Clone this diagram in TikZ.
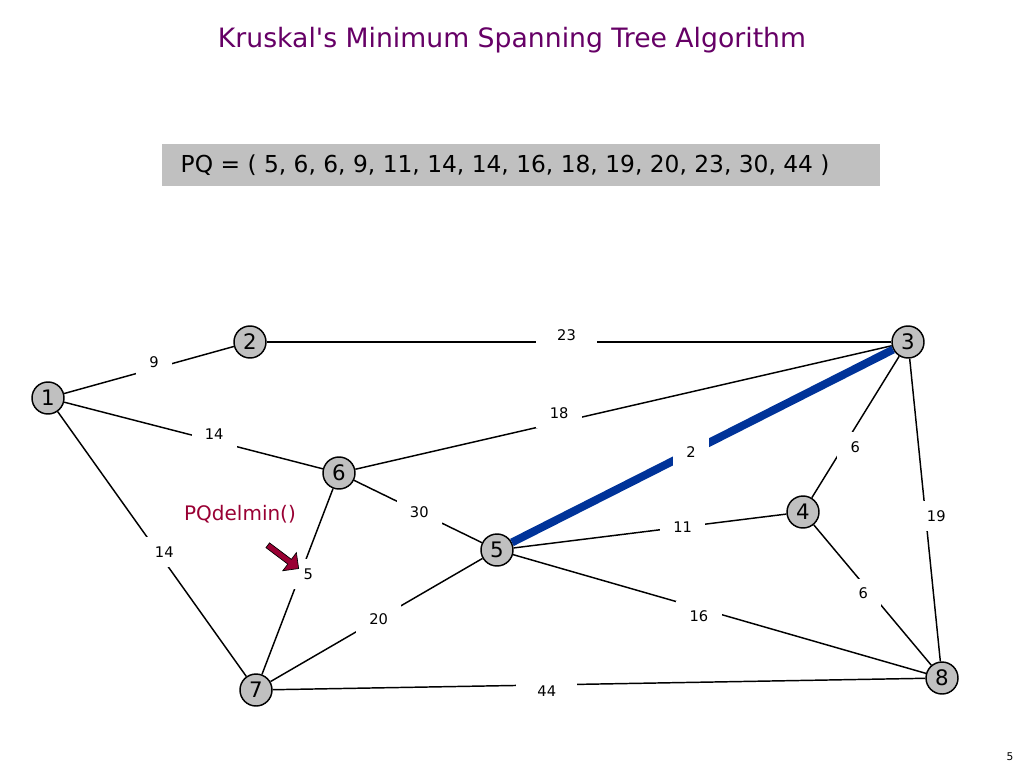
\documentclass[tikz,border=0pt]{standalone}
\usepackage{fontspec}
\setmainfont{DejaVu Sans}
\usepackage{tikz}
\usetikzlibrary{shapes.arrows}
\usetikzlibrary{calc}

\definecolor{titlepurple}{HTML}{660066}
\definecolor{pqgray}{HTML}{C0C0C0}
\definecolor{mstblue}{HTML}{003399}
\definecolor{delred}{HTML}{990033}

\begin{document}
\begin{tikzpicture}[
  x=0.75pt, y=-0.75pt,
  vtx/.style={circle, draw, line width=1.1pt, fill=pqgray, minimum size=24pt, inner sep=0pt, font=\fontsize{16}{16}\selectfont},
  edge/.style={line width=1.1pt},
  tree/.style={line width=6pt, mstblue},
  wt/.style={fill=white, inner xsep=10pt, inner ysep=7pt, font=\fontsize{11}{11}\selectfont, text=black}
]
\useasboundingbox (0,0) rectangle (1024,768);

% ---------- Title and queue ----------
\node[text=titlepurple, font=\fontsize{20}{20}\selectfont] (title) at (512,40) {Kruskal\textquotesingle s Minimum Spanning Tree Algorithm};
\node[fill=pqgray, minimum width=538pt, minimum height=31pt, anchor=west] (pqbox) at (162,165) {};
\node[anchor=west, font=\fontsize{17.5}{17.5}\selectfont] (pq) at (176,165) {PQ = ( 5, 6, 6, 9, 11, 14, 14, 16, 18, 19, 20, 23, 30, 44 )};

% ---------- Graph nodes ----------
\node[vtx] (n1) at (48,398) {1};
\node[vtx] (n2) at (250,342) {2};
\node[vtx] (n3) at (908,342) {3};
\node[vtx] (n4) at (803,512) {4};
\node[vtx] (n5) at (497,550) {5};
\node[vtx] (n6) at (339,473) {6};
\node[vtx] (n7) at (256,690) {7};
\node[vtx] (n8) at (942,678) {8};

% ---------- Edges with weights ----------
\draw[edge] (n1) -- node[wt, pos=0.53, yshift=5pt] {9} (n2);
\draw[edge] (n2) -- node[wt, pos=0.48, yshift=5pt, inner xsep=16pt] {23} (n3);
\draw[edge] (n1) -- node[wt, pos=0.58, yshift=5pt] {14} (n6);
\draw[edge] (n6) -- node[wt, pos=0.38, yshift=7pt] {18} (n3);
\draw[edge] (n3) -- node[wt, pos=0.64, xshift=9pt] {6} (n4);
\draw[edge] (n3) -- node[wt, pos=0.52, xshift=8pt] {19} (n8);
\draw[edge] (n5) -- node[wt, pos=0.62] {11} (n4);
\draw[edge] (n4) -- node[wt, pos=0.49, xshift=-6pt] {6} (n8);
\draw[edge] (n6) -- node[wt, pos=0.51] {30} (n5);
\draw[edge] (n6) -- node[wt, pos=0.46, xshift=6pt] {5} (n7);
\draw[edge] (n1) -- node[wt, pos=0.53, xshift=5pt] {14} (n7);
\draw[edge] (n5) -- node[wt, pos=0.49] {20} (n7);
\draw[edge] (n5) -- node[wt, pos=0.45, yshift=-6pt] {16} (n8);
\draw[edge] (n7) -- node[wt, pos=0.42, yshift=-5pt, inner xsep=16pt] {44} (n8);

% ---------- Tree edge ----------
\draw[tree] (n5) -- node[wt, pos=0.47] {2} (n3);

% ---------- Delete-min marker ----------
\node[text=delred, font=\fontsize{15}{15}\selectfont] (delmin) at (240,514) {PQdelmin()};
\node[single arrow, draw=black, fill=delred, line width=0.5pt, minimum height=29pt, minimum width=17pt,
  single arrow head extend=3.5pt, inner sep=1pt, rotate=-37] (ptr) at (282,556) {};

% ---------- Page number ----------
\node[font=\fontsize{8}{8}\selectfont] (page) at (1010,757) {5};

\end{tikzpicture}
\end{document}
